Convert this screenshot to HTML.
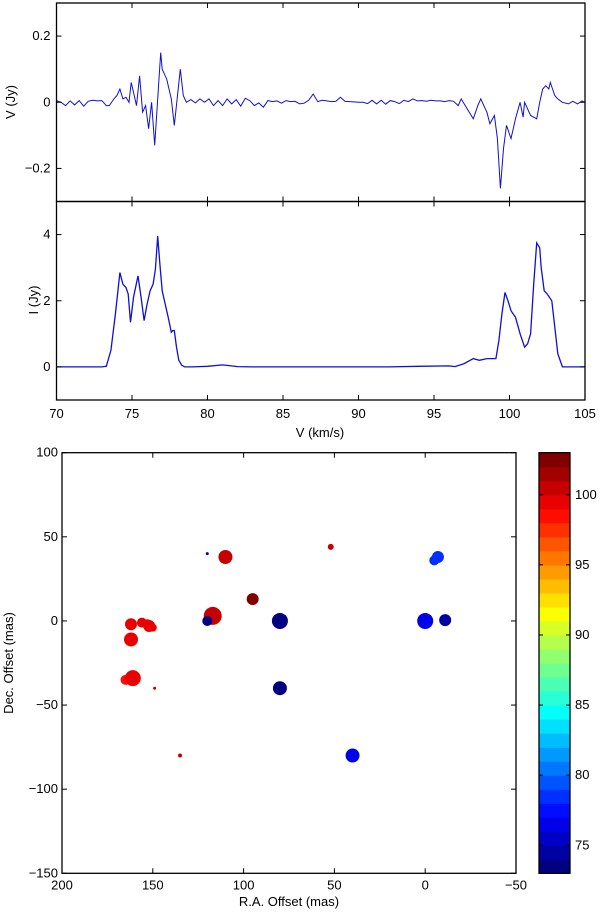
<!DOCTYPE html>
<html><head><meta charset="utf-8"><style>
body{margin:0;background:#fff}
svg{display:block;font-family:"Liberation Sans",Arial,sans-serif;font-size:13px}
</style></head><body>
<svg id="chart" width="600" height="914" viewBox="0 0 600 914" xmlns="http://www.w3.org/2000/svg"></svg>
<script>
// ---------- data ----------
const vVel=[70,70.3,70.6,70.9,71.2,71.5,71.8,72.1,72.4,72.7,73,73.3,73.5,73.8,74.0,74.2,74.4,74.6,74.8,74.95,75.1,75.3,75.5,75.7,75.9,76.1,76.3,76.5,76.9,77.0,77.3,77.6,77.8,78.2,78.4,78.6,78.9,79.2,79.5,79.8,80.1,80.4,80.7,81,81.3,81.6,81.9,82.2,82.5,82.8,83.1,83.4,83.7,84,84.3,84.6,84.9,85.2,85.5,85.8,86.1,86.4,86.7,87,87.3,87.6,87.9,88.2,88.5,88.8,89.1,89.4,89.7,90,90.3,90.6,90.9,91.2,91.5,91.8,92.1,92.4,92.7,93,93.3,93.6,93.9,94.2,94.5,94.8,95.1,95.4,95.7,96,96.3,96.6,96.8,97.2,97.6,97.9,98.1,98.3,98.5,98.7,99.0,99.2,99.4,99.6,99.8,100.1,100.4,100.7,100.9,101.0,101.2,101.4,101.8,102.0,102.2,102.4,102.6,102.7,103.0,103.2,103.5,103.9,104.2,104.5,104.8,105];
const vFlux=[0.005,0,-0.01,0.004,-0.008,0.005,-0.012,0.003,0.006,0.004,0.005,-0.01,-0.01,0.01,0.02,0.04,0.01,0.015,0,0.06,0.03,-0.01,0.08,-0.03,-0.01,-0.08,0,-0.13,0.15,0.1,0.07,0.01,-0.07,0.1,0.02,0,0.008,-0.002,0.01,0,0.01,-0.01,0.005,-0.01,0.01,-0.005,0.008,-0.012,0.012,0.005,-0.01,-0.002,-0.015,0.005,0.002,0.004,-0.003,0.005,0.002,0.003,-0.005,-0.003,0.006,0.025,0.002,0.006,0.004,0.002,0.003,0.015,0.003,0.002,0.001,0,0,-0.004,0.006,-0.005,0.006,-0.006,0.005,0.002,-0.004,0.006,0.002,0.01,0.004,0.005,0.003,0.006,0.004,0.004,0.002,0.005,0.003,-0.01,0.01,-0.02,-0.05,-0.01,0.01,-0.01,-0.03,-0.065,-0.04,-0.11,-0.26,-0.14,-0.07,-0.11,-0.05,0,-0.045,0,-0.02,-0.04,-0.05,0.0,0.04,0.05,0.04,0.06,0.02,0.01,0.0,-0.005,0.003,-0.005,0.004,0];
const iVel=[70,73.0,73.3,73.6,73.9,74.2,74.4,74.6,74.75,74.9,75.1,75.4,75.6,75.8,76.0,76.2,76.4,76.55,76.7,76.85,77.0,77.2,77.4,77.6,77.7,77.8,77.95,78.1,78.3,78.5,79,80,81,82,83,84,86,88,90,92,94,96,96.4,97,97.6,98,98.5,99.1,99.3,99.5,99.7,99.9,100.1,100.4,100.7,101.0,101.2,101.4,101.6,101.8,102.0,102.1,102.3,102.5,102.8,103.0,103.2,103.5,104,105];
const iFlux=[0,0,0.02,0.5,1.6,2.85,2.5,2.4,2.2,1.35,2.1,2.75,2.1,1.4,1.9,2.3,2.5,2.95,3.95,3.1,2.3,1.9,1.5,1.05,1.1,1.1,0.6,0.2,0.05,0,0.0,0.02,0.06,0.01,0,0,0,0,0,0,0.02,0.03,0.01,0.1,0.25,0.2,0.25,0.25,0.8,1.6,2.25,2.0,1.7,1.5,1.0,0.6,0.7,1.0,2.5,3.75,3.6,3.0,2.3,2.2,2.0,1.2,0.4,0,0,0];
const spotRA=[120,110,52,95,117,120,80,80,40,0,-11,-7,-5,162,162,156,153,152,150,165,161,149,135];
const spotDec=[40,38,44,13,3,0,0,-40,-80,0,0.5,38,36,-2,-11,-1,-2,-3,-4,-35,-34,-40,-80];
const spotVel=[74,100.5,100.5,102.5,100.5,73.5,73.5,73.5,76,76.5,74,78,78,99,99,99,99,99,99,98.5,99,100,100];
const spotR=[1.5,7,3,6,9,5,8,7,7,8,6,6,5,6,7,5,5,6,4,5,8,1.5,2];
const vTicks=[0.2,0,-0.2], vTickLabels=["0.2","0","\u22120.2"];
const iTicks=[4,2,0], iTickLabels=["4","2","0"];
const velTicks=[70,75,80,85,90,95,100,105];
const raTicks=[200,150,100,50,0,-50], raTickLabels=["200","150","100","50","0","\u221250"];
const decTicks=[100,50,0,-50,-100,-150], decTickLabels=["100","50","0","\u221250","\u2212100","\u2212150"];
const cbTicks=[100,95,90,85,80,75];

// ---------- helpers ----------
const svg=document.getElementById('chart');
const NS='http://www.w3.org/2000/svg';
function mk(tag,at,parent){const e=document.createElementNS(NS,tag);for(const k in at)e.setAttribute(k,at[k]);(parent||svg).appendChild(e);return e;}
function jet(t){t=Math.max(0,Math.min(1,t));
 const r=Math.max(0,Math.min(1,1.5-Math.abs(4*t-3)));
 const g=Math.max(0,Math.min(1,1.5-Math.abs(4*t-2)));
 const b=Math.max(0,Math.min(1,1.5-Math.abs(4*t-1)));
 return `rgb(${Math.round(r*255)},${Math.round(g*255)},${Math.round(b*255)})`;}

const X0=56.5,X1=585;
const xv=v=>X0+(v-70)/35*(X1-X0);
const yV=v=>3+(0.3-v)/0.6*198.5;
const yI=v=>201.5+(5-v)/6*198.5;

function frame(name,x,y,w,h){const r=mk('rect',{x,y,width:w,height:h,fill:'none',stroke:'#000','stroke-width':1.3});
 }

let p=vVel.map((v,i)=>xv(v).toFixed(1)+','+yV(vFlux[i]).toFixed(1)).join(' ');
let l=mk('polyline',{points:p,fill:'none',stroke:'#1010d0','stroke-width':1});

p=iVel.map((v,i)=>xv(v).toFixed(1)+','+yI(iFlux[i]).toFixed(1)).join(' ');
l=mk('polyline',{points:p,fill:'none',stroke:'#1010d0','stroke-width':1.3});

frame('stokes-v-panel',X0,3,X1-X0,198.5);
frame('stokes-i-panel',X0,201.5,X1-X0,198.5);

vTicks.forEach((t,i)=>{const y=yV(t);
 mk('line',{x1:X0,x2:X0+5,y1:y,y2:y,stroke:'#000'});mk('line',{x1:X1,x2:X1-5,y1:y,y2:y,stroke:'#000'});
 const tx=mk('text',{x:X0-6,y:y+4,'text-anchor':'end'});tx.textContent=vTickLabels[i];
 });
iTicks.forEach((t,i)=>{const y=yI(t);
 mk('line',{x1:X0,x2:X0+5,y1:y,y2:y,stroke:'#000'});mk('line',{x1:X1,x2:X1-5,y1:y,y2:y,stroke:'#000'});
 const tx=mk('text',{x:X0-6,y:y+4,'text-anchor':'end'});tx.textContent=iTickLabels[i];
 });
velTicks.forEach(t=>{const x=xv(t);
 [3,201.5].forEach(y=>{mk('line',{x1:x,x2:x,y1:y,y2:y+5,stroke:'#000'});});
 [201.5,400].forEach(y=>{mk('line',{x1:x,x2:x,y1:y,y2:y-5,stroke:'#000'});});
 const tx=mk('text',{x:x,y:418,'text-anchor':'middle'});tx.textContent=String(t);
 });
let t=mk('text',{x:0,y:0,'text-anchor':'middle',transform:'translate(15,102) rotate(-90)'});t.textContent='V (Jy)';

t=mk('text',{x:0,y:0,'text-anchor':'middle',transform:'translate(38,300) rotate(-90)'});t.textContent='I (Jy)';

t=mk('text',{x:320,y:437,'text-anchor':'middle'});t.textContent='V (km/s)';


// scatter
const SX0=62,SX1=516,SY0=452.7,SY1=873.3;
const xr=v=>SX0+(200-v)/250*(SX1-SX0);
const yd=v=>SY0+(100-v)/250*(SY1-SY0);
const CMIN=73,CMAX=103;
spotRA.forEach((ra,i)=>{const c=mk('circle',{cx:xr(ra),cy:yd(spotDec[i]),r:spotR[i],fill:jet(Math.floor(spotVel[i]-CMIN)/29)});
 });
frame('spot-map-panel',SX0,SY0,SX1-SX0,SY1-SY0);
raTicks.forEach((v,i)=>{const x=xr(v);
 mk('line',{x1:x,x2:x,y1:SY1,y2:SY1-5,stroke:'#000'});mk('line',{x1:x,x2:x,y1:SY0,y2:SY0+5,stroke:'#000'});
 const tx=mk('text',{x:x,y:SY1+16,'text-anchor':'middle'});tx.textContent=raTickLabels[i];
 });
decTicks.forEach((v,i)=>{const y=yd(v);
 mk('line',{x1:SX0,x2:SX0+5,y1:y,y2:y,stroke:'#000'});mk('line',{x1:SX1,x2:SX1-5,y1:y,y2:y,stroke:'#000'});
 const tx=mk('text',{x:SX0-4,y:y+4,'text-anchor':'end'});tx.textContent=decTickLabels[i];
 });
t=mk('text',{x:289,y:906,'text-anchor':'middle'});t.textContent='R.A. Offset (mas)';

t=mk('text',{x:0,y:0,'text-anchor':'middle',transform:'translate(13,663) rotate(-90)'});t.textContent='Dec. Offset (mas)';


// colorbar
const CX0=539,CX1=570;
const yc=v=>SY1-(v-CMIN)/(CMAX-CMIN)*(SY1-SY0);
for(let k=0;k<30;k++){const vlo=CMIN+k,vhi=CMIN+k+1;
 const r=mk('rect',{x:CX0,y:yc(vhi),width:CX1-CX0,height:yc(vlo)-yc(vhi)+0.6,fill:jet(k/29)});
 }
frame('colorbar',CX0,SY0,CX1-CX0,SY1-SY0);
cbTicks.forEach(v=>{const y=yc(v);
 mk('line',{x1:CX0,x2:CX0+4,y1:y,y2:y,stroke:'#000'});mk('line',{x1:CX1,x2:CX1-4,y1:y,y2:y,stroke:'#000'});
 const tx=mk('text',{x:CX1+5,y:y+4});tx.textContent=String(v);
 });
</script>
</body></html>
